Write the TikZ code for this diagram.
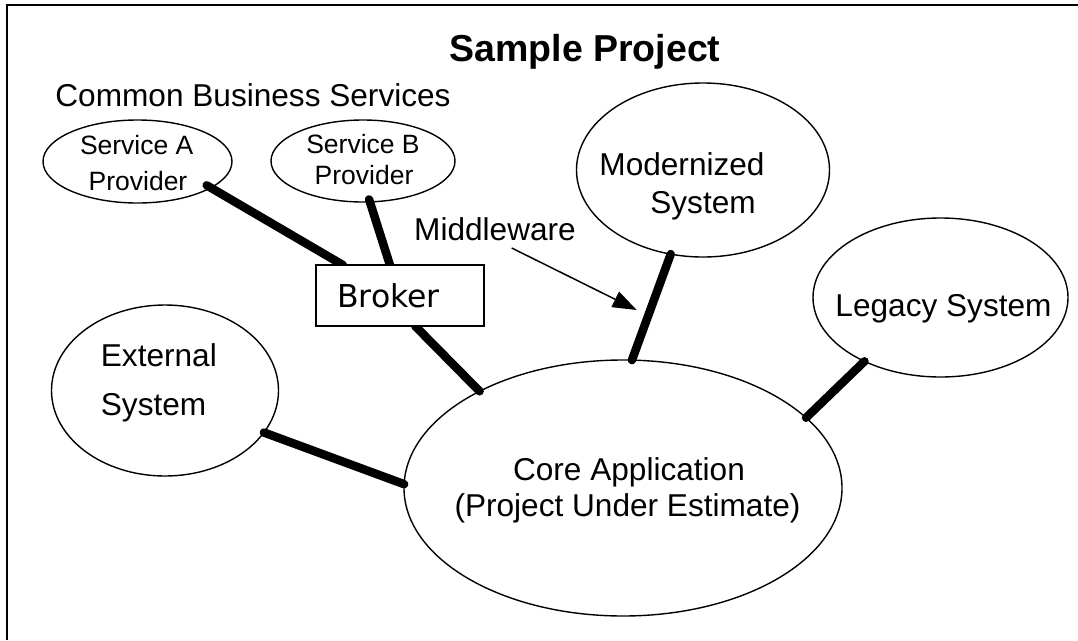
\documentclass[tikz,border=0pt]{standalone}
\usepackage{fontspec}
\setmainfont{Liberation Sans}
\newfontfamily\brokerfont{DejaVu Sans}
\usetikzlibrary{shapes.geometric,arrows.meta,calc,backgrounds}
\begin{document}
\begin{tikzpicture}[x=1pt,y=-1pt,
  oval/.style={draw, ellipse, line width=1.4pt, inner sep=0pt, outer sep=0pt},
  lbl/.style={anchor=base, inner sep=0pt, font=\fontsize{31.6}{36}\selectfont},
  lblw/.style={anchor=base west, inner sep=0pt, font=\fontsize{31.6}{36}\selectfont},
  small/.style={anchor=base, inner sep=0pt, font=\fontsize{26.5}{30}\selectfont},
  link/.style={line width=8.5pt, line cap=round},
  boxstyle/.style={draw, fill=white, line width=1.8pt, inner sep=0pt, outer sep=0pt,
    minimum width=168pt, minimum height=61pt},
  frame/.style={line width=2.5pt}]
\useasboundingbox (0,0) rectangle (1078,640);
% frame (open at right and bottom)
\coordinate (fbl) at (7,640);
\coordinate (ftl) at (7,5);
\coordinate (ftr) at (1078,5);
\draw[frame] (fbl) -- (ftl) -- (ftr);

% title and group label
\node[anchor=base, inner sep=0pt, font=\bfseries\fontsize{37.5}{42}\selectfont] (title) at (585,61) {Sample Project};
\node[lbl] (cbs) at (253,106.7) {Common Business Services};

% ellipses
\node[oval, minimum width=189pt, minimum height=83pt] (sa) at (137.5,161.5) {};
\node[oval, minimum width=184pt, minimum height=82pt] (sb) at (363,161) {};
\node[oval, minimum width=253pt, minimum height=174pt] (mod) at (703,170) {};
\node[oval, minimum width=255pt, minimum height=159pt] (leg) at (940.5,297.5) {};
\node[oval, minimum width=227pt, minimum height=171pt] (ext) at (165,390.5) {};
\node[oval, minimum width=438pt, minimum height=256pt] (core) at (623,488) {};

% broker box
\node[boxstyle] (broker) at (400,295.5) {};
\node[anchor=base, inner sep=0pt, font=\brokerfont\fontsize{31.5}{36}\selectfont] (brokertext) at (388.5,307) {Broker};

% labels
\node[small] (saA) at (136.7,154) {Service A};
\node[small] (saB) at (138,190) {Provider};
\node[small] (sbA) at (363,153.3) {Service B};
\node[small] (sbB) at (364,184) {Provider};
\node[lbl] (modA) at (682,175) {Modernized};
\node[lbl] (modB) at (703,213) {System};
\node[lbl] (legA) at (943.5,316.7) {Legacy System};
\node[lblw] (extA) at (100.7,366.7) {External};
\node[lblw] (extB) at (100.7,415) {System};
\node[lbl] (coreA) at (629,480) {Core Application};
\node[lbl] (coreB) at (627.5,516.7) {(Project Under Estimate)};
\node[lbl] (mw) at (495,240) {Middleware};

% middleware arrow
\coordinate (mwstart) at (511.7,248);
\coordinate (mwtip) at (636.7,310);
\draw[line width=1.5pt, -{Triangle[length=24pt,width=17pt]}] (mwstart) -- (mwtip);

% thick connectors
\begin{pgfonlayer}{background}
\draw[link] ($(sa.center)!0.93!(sa.341.2)$) -- ($(broker.north west)!0.16!(broker.north east)$);
\draw[link] ($(sb.center)!0.94!(sb.279.5)$) -- ($(broker.north west)!0.44!(broker.north east)$);
\draw[link] ($(broker.south west)!0.59!(broker.south east)$) -- (core.146.1);
\draw[link] (mod.249) -- (core.86.3);
\draw[link] (leg.220) -- (core.21.9);
\draw[link] (ext.337.3) -- (core.179.2);
\end{pgfonlayer}
\end{tikzpicture}
\end{document}
